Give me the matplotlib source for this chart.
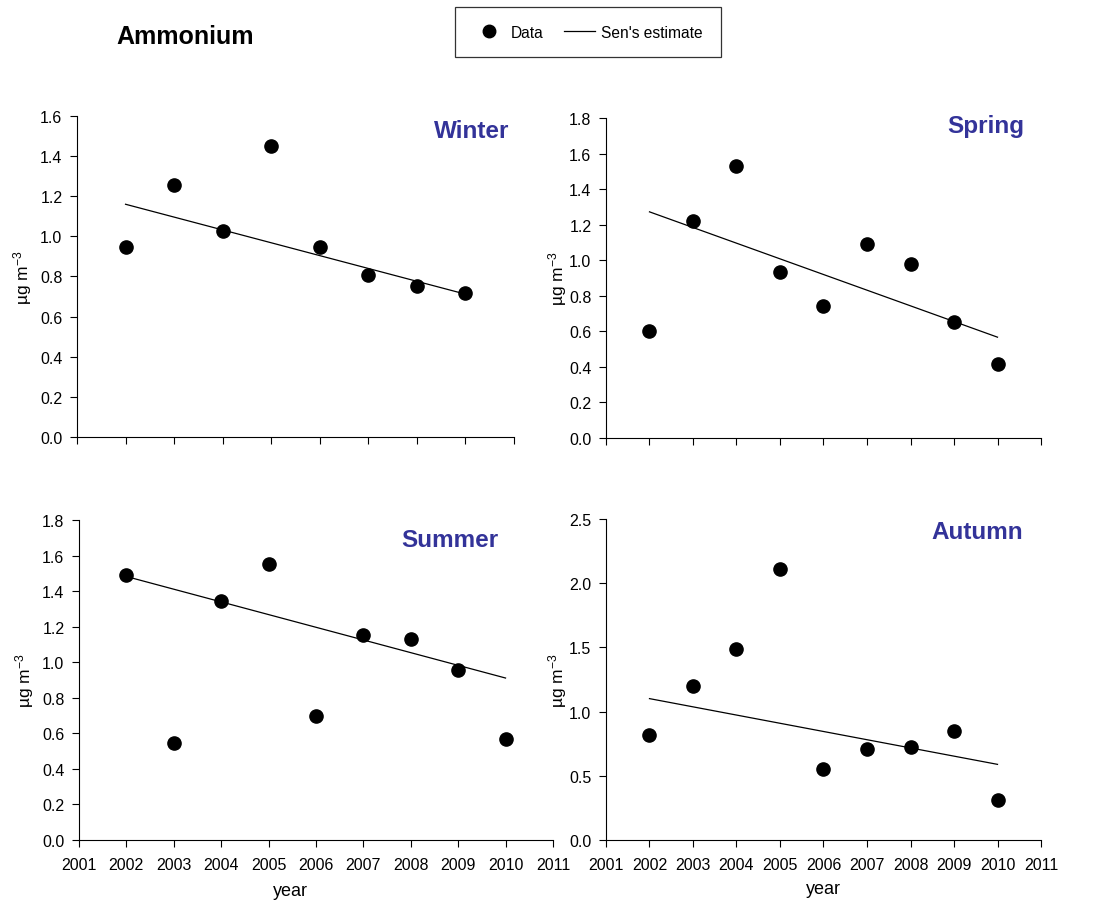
import matplotlib
matplotlib.use("Agg")
import matplotlib.pyplot as plt
from matplotlib.lines import Line2D
from matplotlib.ticker import FormatStrFormatter

plt.rcParams['font.family'] = ['Liberation Sans', 'DejaVu Sans']
plt.rcParams['mathtext.fontset'] = 'custom'
plt.rcParams['mathtext.rm'] = 'Liberation Sans'
plt.rcParams['mathtext.it'] = 'Liberation Sans'

# data
winter_years = [2002, 2003, 2004, 2005, 2006, 2007, 2008, 2009]
winter_vals = [0.947, 1.258, 1.027, 1.450, 0.947, 0.806, 0.751, 0.718]
winter_sen = [1.160, 0.712]

years = [2002, 2003, 2004, 2005, 2006, 2007, 2008, 2009, 2010]
spring_vals = [0.603, 1.222, 1.531, 0.934, 0.741, 1.093, 0.981, 0.655, 0.414]
spring_sen = [1.272, 0.567]
summer_vals = [1.490, 0.543, 1.344, 1.555, 0.700, 1.151, 1.132, 0.958, 0.567]
summer_sen = [1.482, 0.911]
autumn_vals = [0.818, 1.197, 1.490, 2.113, 0.550, 0.706, 0.722, 0.851, 0.314]
autumn_sen = [1.101, 0.589]

title_color = '#333399'
ylab = 'µg m$^{-3}$'

fig = plt.figure(figsize=(11.03, 9.04), dpi=100)

# axes positions (fig fraction)
ax_w = fig.add_axes([0.0698, 0.5155, 0.3962, 0.3551])
ax_sp = fig.add_axes([0.5494, 0.5144, 0.3944, 0.3540])
ax_su = fig.add_axes([0.0716, 0.0697, 0.4297, 0.3540])
ax_au = fig.add_axes([0.5494, 0.0697, 0.3944, 0.3551])


def style(ax, xlim, ylim, ystep, fmt, show_x):
    for s in ['top', 'right']:
        ax.spines[s].set_visible(False)
    ax.set_xlim(*xlim)
    ax.set_ylim(*ylim)
    ax.set_xticks(range(xlim[0], xlim[1] + 1))
    n = int(round((ylim[1] - ylim[0]) / ystep))
    ax.set_yticks([ylim[0] + i * ystep for i in range(n + 1)])
    ax.yaxis.set_major_formatter(FormatStrFormatter(fmt))
    ax.tick_params(direction='out', length=5, labelsize=11.5, width=0.8)
    ax.tick_params(axis='y', pad=5.5)
    ax.tick_params(axis='x', pad=7)
    if not show_x:
        ax.set_xticklabels([])
    ax.set_ylabel(ylab, fontsize=12.5)


def draw(ax, x, y, sen, title, tx, ty):
    ax.plot(x, y, 'o', color='black', markersize=9.5, clip_on=False, zorder=3)
    ax.plot([x[0], x[-1]], sen, '-', color='black', lw=0.9)
    ax.text(tx, ty, title, transform=ax.transAxes, ha='right', va='center',
            fontsize=17.5, fontweight='bold', color=title_color)


draw(ax_w, winter_years, winter_vals, winter_sen, 'Winter', 0.99, 0.956)
style(ax_w, (2001, 2010), (0.0, 1.6), 0.2, '%.1f', False)
ax_w.yaxis.set_label_coords(-0.098, 0.5)

draw(ax_sp, years, spring_vals, spring_sen, 'Spring', 0.961, 0.975)
style(ax_sp, (2001, 2011), (0.0, 1.8), 0.2, '%.1f', False)
ax_sp.yaxis.set_label_coords(-0.086, 0.5)

draw(ax_su, years, summer_vals, summer_sen, 'Summer', 0.886, 0.9375)
style(ax_su, (2001, 2011), (0.0, 1.8), 0.2, '%.1f', True)
ax_su.yaxis.set_label_coords(-0.09, 0.5)
ax_su.set_xlabel('year', fontsize=13)
ax_su.xaxis.set_label_coords(0.447, -0.13)

draw(ax_au, years, autumn_vals, autumn_sen, 'Autumn', 0.959, 0.96)
style(ax_au, (2001, 2011), (0.0, 2.5), 0.5, '%.1f', True)
ax_au.yaxis.set_label_coords(-0.086, 0.5)
ax_au.set_xlabel('year', fontsize=13)
ax_au.xaxis.set_label_coords(0.5, -0.125)

fig.text(116 / 1103, 1 - 37 / 904, 'Ammonium', fontsize=18, fontweight='bold',
         ha='left', va='center')

handles = [Line2D([], [], marker='o', color='black', ls='none', markersize=9),
           Line2D([], [], color='black', lw=0.9)]
leg = fig.legend(handles, ['Data', "Sen's estimate"], loc='center',
                 bbox_to_anchor=(588 / 1103, 1 - 33 / 904), ncol=2,
                 fontsize=11.2, frameon=True, fancybox=False, edgecolor='black',
                 handlelength=2.0, columnspacing=1.3, borderpad=1.15,
                 handletextpad=0.4)
leg.get_frame().set_linewidth(0.9)

fig.savefig('out.png', dpi=100)
